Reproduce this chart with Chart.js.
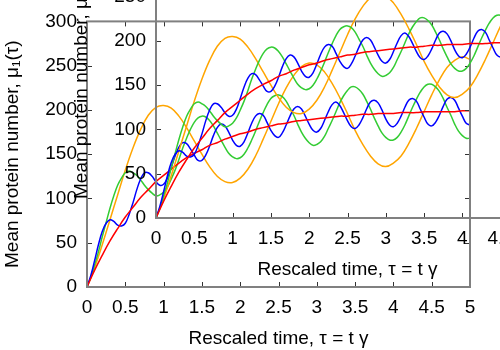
<!DOCTYPE html>
<html>
<head>
<meta charset="utf-8">
<script src="https://cdn.jsdelivr.net/npm/chart.js@4/dist/chart.umd.min.js"></script>
<style>
  html, body { margin: 0; padding: 0; background: #fff; }
  #wrap { position: relative; width: 500px; height: 350px; overflow: hidden; background: #fff; }
  canvas { position: absolute; }
  #main { left: 0; top: 0; }
  #inset { left: 69px; top: -69px; }
</style>
</head>
<body>
<div id="wrap">
  <canvas id="main" width="500" height="350"></canvas>
  <canvas id="inset" width="500" height="350"></canvas>
</div>
<script>
// sample spacing in rescaled time
const fineStep = 0.05;
const coarseStep = 0.1;

const redValues = [0,19,36,52,66,79,90,101,110,119,
  126,133,140,146,151,155,160,163,167,170,
  173,175,178,180,182,184,185,187,188,189,
  190,191,192,193,193,194,195,195,196,196,
  196,197,197,197,198,198,198,198,198,199,
  199];

const blueValues = [0,13,30,48,63,72,76,74,70,69,
  72,82,95,110,122,129,129,125,119,115,
  116,123,135,148,158,163,162,156,149,143,
  143,149,159,171,180,184,182,175,166,160,
  159,164,174,185,193,196,194,186,177,171,
  169,174,183,193,201,204,201,193,184,177,
  175,179,188,198,206,209,205,197,188,181,
  179,183,191,201,209,211,208,200,190,183,
  181,185,193,203,211,213,210,201,192,184,
  182,186,194,204,212,214,211,202,193,185,
  183];

const greenValues = [0,11,25,40,57,73,89,103,115,123,
  129,131,129,126,121,115,110,106,103,104,
  107,113,122,132,144,157,168,178,186,191,
  193,192,188,182,174,166,158,151,147,145,
  146,150,157,166,176,187,197,206,213,216,
  217,215,210,202,194,184,175,168,163,160,
  161,164,170,179,188,198,208,216,222,226,
  226,223,218,210,201,191,182,174,169,166,
  166,169,175,183,193,203,212,220,226,229,
  229,226,221,213,203,194,184,176,171,168,
  168];

const orangeValues = [0,22,48,76,104,132,157,178,194,203,
  205,202,193,180,165,150,136,125,119,118,
  123,133,148,167,187,207,225,239,249,253,
  251,243,230,214,196,177,161,148,139,136,
  140,148,162,179,198,217,234,248,256,260,
  257];

const xTitle = 'Rescaled time, \u03c4 = t \u03b3';
const yTitle = 'Mean protein number, \u03bc\u2081(\u03c4)';

function toPoints(values, step) {
  return values.map((v, i) => ({ x: +(i * step).toFixed(2), y: v }));
}

// gnuplot-like box with inward ticks on all four sides
const frameTicks = {
  id: 'frameTicks',
  afterDatasetsDraw(chart) {
    const ctx = chart.ctx;
    const { left, right, top, bottom } = chart.chartArea;
    const x = chart.scales.x, y = chart.scales.y;
    ctx.save();
    ctx.strokeStyle = '#333';
    ctx.lineWidth = 1;
    ctx.beginPath();
    x.ticks.forEach(t => {
      const px = Math.round(x.getPixelForValue(t.value)) + 0.5;
      ctx.moveTo(px, bottom); ctx.lineTo(px, bottom - 5);
      ctx.moveTo(px, top); ctx.lineTo(px, top + 5);
    });
    y.ticks.forEach(t => {
      const py = Math.round(y.getPixelForValue(t.value)) + 0.5;
      ctx.moveTo(left, py); ctx.lineTo(left + 5, py);
      ctx.moveTo(right, py); ctx.lineTo(right - 5, py);
    });
    ctx.stroke();
    ctx.strokeStyle = '#808080';
    ctx.lineWidth = 2;
    ctx.strokeRect(left, top, right - left, bottom - top);
    ctx.restore();
  }
};

function buildConfig() {
  const line = (label, color, values, step) => ({
    label: label,
    data: toPoints(values, step),
    borderColor: color,
    borderWidth: 1.5,
    pointRadius: 0,
    fill: false,
    tension: 0.4
  });
  const tickFont = { family: 'Liberation Sans', size: 19 };
  return {
    type: 'line',
    data: {
      datasets: [
        line('red', '#ff0000', redValues, coarseStep),
        line('blue', '#0000ff', blueValues, fineStep),
        line('green', '#33cc33', greenValues, fineStep),
        line('orange', '#ffa500', orangeValues, coarseStep)
      ]
    },
    options: {
      responsive: false,
      animation: false,
      devicePixelRatio: 1,
      layout: { padding: { left: 0, right: 30, top: 20, bottom: 0 } },
      plugins: { legend: { display: false }, tooltip: { enabled: false } },
      scales: {
        x: {
          type: 'linear',
          min: 0, max: 5,
          grid: { display: false, drawTicks: false },
          border: { display: false },
          ticks: { stepSize: 0.5, padding: 9, color: '#000', maxRotation: 0,
                   font: tickFont, callback: v => String(v) },
          title: { display: true, text: xTitle, color: '#000', padding: 0,
                   font: tickFont },
          afterFit(scale) { scale.height = 63; }
        },
        y: {
          type: 'linear',
          min: 0, max: 300,
          grid: { display: false, drawTicks: false },
          border: { display: false },
          ticks: { stepSize: 50, padding: 10, color: '#000',
                   font: tickFont, callback: v => String(v) },
          title: { display: true, text: yTitle, color: '#000', padding: 1,
                   font: tickFont },
          afterFit(scale) { scale.width = 87; }
        }
      }
    },
    plugins: [frameTicks]
  };
}

new Chart(document.getElementById('main'), buildConfig());
new Chart(document.getElementById('inset'), buildConfig());
</script>
</body>
</html>
